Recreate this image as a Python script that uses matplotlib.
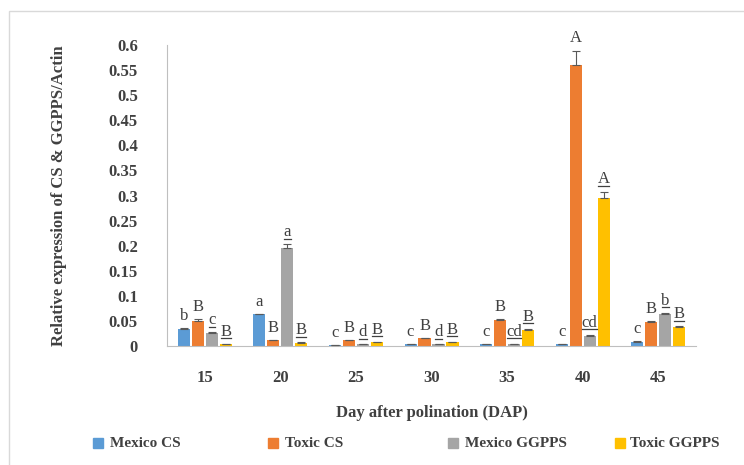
"""Relative expression of CS & GGPPS across days after polination."""

import numpy as np
import matplotlib
matplotlib.use("Agg")
import matplotlib.pyplot as plt
from matplotlib.lines import Line2D
from matplotlib.patches import Rectangle

DAYS = ["15", "20", "25", "30", "35", "40", "45"]
SERIES = ["Mexico CS", "Toxic CS", "Mexico GGPPS", "Toxic GGPPS"]

mexico_cs = [0.034, 0.063, 0.002, 0.003, 0.003, 0.003, 0.008]
toxic_cs = [0.050, 0.011, 0.011, 0.015, 0.052, 0.561, 0.048]
mexico_ggpps = [0.025, 0.195, 0.003, 0.003, 0.003, 0.020, 0.064]
toxic_ggpps = [0.003, 0.006, 0.007, 0.007, 0.032, 0.295, 0.038]

mexico_cs_err = [0.002, 0.001, 0.0, 0.0, 0.0, 0.0, 0.001]
toxic_cs_err = [0.003, 0.001, 0.001, 0.001, 0.002, 0.028, 0.001]
mexico_ggpps_err = [0.002, 0.008, 0.0, 0.0, 0.001, 0.002, 0.002]
toxic_ggpps_err = [0.001, 0.001, 0.001, 0.001, 0.002, 0.013, 0.001]

mexico_cs_lab = ["b", "a", "c", "c", "c", "c", "c"]
toxic_cs_lab = ["B", "B", "B", "B", "B", "A", "B"]
mexico_ggpps_lab = ["c", "a", "d", "d", "cd", "cd", "b"]
toxic_ggpps_lab = ["B", "B", "B", "B", "B", "A", "B"]

COLORS = ["#5B9BD5", "#ED7D31", "#A5A5A5", "#FFC000"]
TEXT = "#404040"
FONT = "Liberation Serif"

values = [mexico_cs, toxic_cs, mexico_ggpps, toxic_ggpps]
errors = [mexico_cs_err, toxic_cs_err, mexico_ggpps_err, toxic_ggpps_err]
letters = [mexico_cs_lab, toxic_cs_lab, mexico_ggpps_lab, toxic_ggpps_lab]
underlined = [False, False, True, True]

fig = plt.figure(figsize=(7.44, 4.65), dpi=100)
ax = fig.add_axes([0.2245, 0.256, 0.711, 0.647])

x = np.arange(len(DAYS))
step = 0.185
width = 0.16
under_texts = []

for i, (vals, errs, labs, color) in enumerate(zip(values, errors, letters, COLORS)):
    pos = x + (i - 1.5) * step
    ax.bar(pos, vals, width=width, color=color, zorder=2)
    ax.errorbar(pos, vals, yerr=[np.zeros(len(errs)), errs], fmt="none",
                ecolor="#595959", elinewidth=0.8, capsize=3, capthick=0.8,
                zorder=3)
    for p, v, e, lab in zip(pos, vals, errs, labs):
        t = ax.annotate(lab, (p, v + e), xytext=(0, 3),
                        textcoords="offset points", ha="center", va="bottom",
                        fontsize=12, fontfamily=FONT, color=TEXT)
        if underlined[i]:
            under_texts.append(t)

ax.set_xlim(-0.5, len(DAYS) - 0.5)
ax.set_ylim(0, 0.6)
ax.set_yticks(np.arange(0, 0.601, 0.05))
ax.set_yticklabels(["0", "0.05", "0.1", "0.15", "0.2", "0.25", "0.3",
                    "0.35", "0.4", "0.45", "0.5", "0.55", "0.6"])
ax.set_xticks(x)
ax.set_xticklabels(DAYS)
ax.tick_params(axis="both", length=0, colors=TEXT)
ax.tick_params(axis="x", pad=17, labelsize=12)
ax.tick_params(axis="y", pad=21, labelsize=12)
for lab in ax.get_xticklabels() + ax.get_yticklabels():
    lab.set_fontfamily(FONT)
    lab.set_fontweight("bold")

for side in ["top", "right"]:
    ax.spines[side].set_visible(False)
ax.spines["left"].set_color("#BFBFBF")
ax.spines["bottom"].set_color("#BFBFBF")

ax.set_xlabel("Day after polination (DAP)", fontsize=12, fontweight="bold",
              fontfamily=FONT, color=TEXT, labelpad=14)
ax.set_ylabel("Relative expression of CS & GGPPS/Actin", fontsize=12,
              fontweight="bold", fontfamily=FONT, color=TEXT)
ax.yaxis.set_label_coords(-0.19, 0.5)

# legend drawn as boxes + text along the bottom
legend_box_x = [93, 268, 448, 615]
legend_text_x = [110, 285, 465, 630]
legend_y = 1 - 443 / 465
for name, color, bx, tx in zip(SERIES, COLORS, legend_box_x, legend_text_x):
    fig.add_artist(Rectangle((bx / 744, legend_y - 5 / 465), 10 / 744, 10 / 465,
                             transform=fig.transFigure, color=color))
    fig.text(tx / 744, legend_y, name, ha="left", va="center", fontsize=11,
             fontweight="bold", fontfamily=FONT, color=TEXT)

fig.add_artist(Rectangle((0.012, -0.05), 1.0, 0.976 + 0.05,
                         transform=fig.transFigure, fill=False,
                         edgecolor="#D9D9D9", linewidth=1.0))

# underline the GGPPS letters
fig.canvas.draw()
inv = fig.transFigure.inverted()
for t in under_texts:
    bb = t.get_window_extent()
    (x0, y0), (x1, _) = inv.transform([[bb.x0 + 0.5, bb.y0 + 1.5],
                                       [bb.x1 - 0.5, bb.y0 + 1.5]])
    fig.add_artist(Line2D([x0, x1], [y0, y0], transform=fig.transFigure,
                          color=TEXT, linewidth=0.9))

fig.savefig("out.png", dpi=100)
